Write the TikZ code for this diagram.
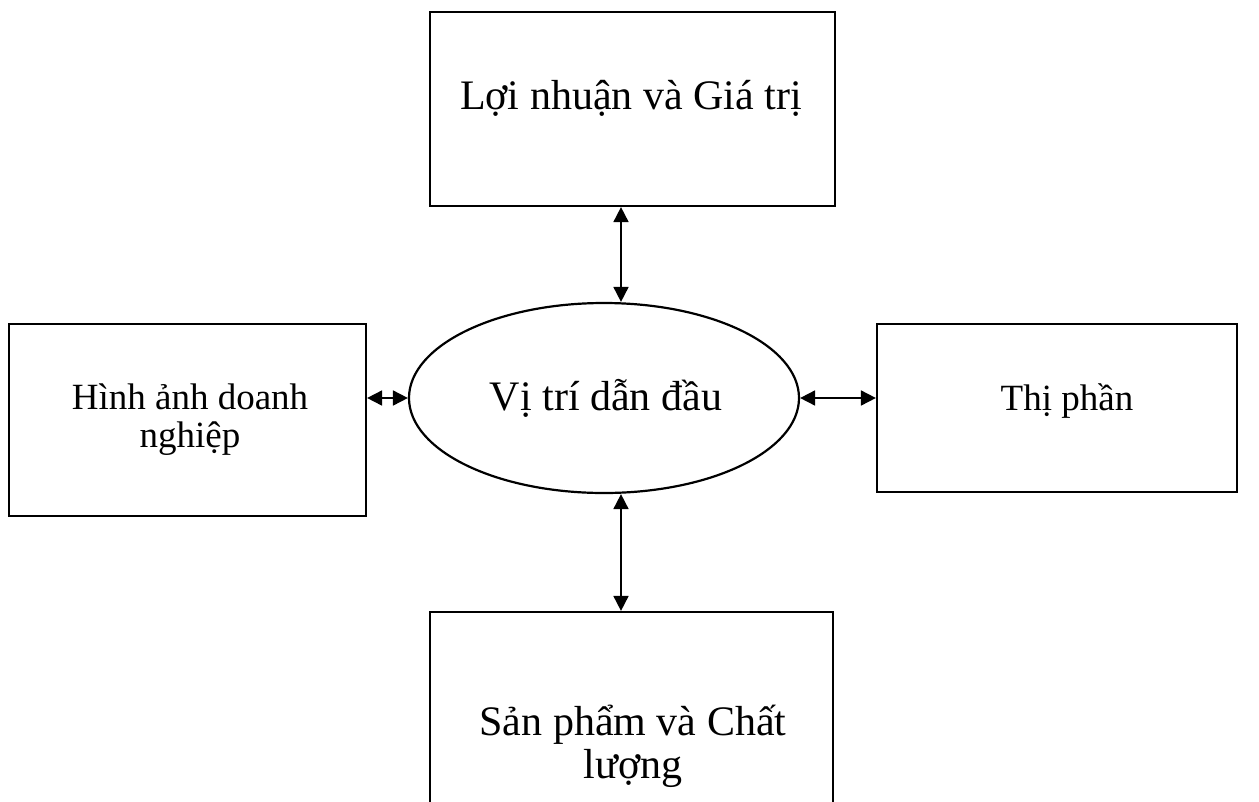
\documentclass[tikz,border=0pt]{standalone}
\usepackage{fontspec}
\setmainfont{Liberation Serif}
\usetikzlibrary{shapes.geometric,arrows.meta}
\begin{document}
\begin{tikzpicture}[x=1pt,y=-1pt,
  box/.style={draw,line width=2.2pt,rectangle,inner sep=0pt},
  label/.style={inner sep=0pt,anchor=base,align=center},
  link/.style={line width=1.8pt,{Triangle[length=15pt,width=15pt]}-{Triangle[length=15pt,width=15pt]}},
  big/.style={font=\fontsize{42}{43}\selectfont},
  mid/.style={font=\fontsize{37}{38}\selectfont}]
\useasboundingbox (0,0) rectangle (1259,801);
% central goal
\node[draw,line width=2.2pt,ellipse,minimum width=390pt,minimum height=190pt,inner sep=0pt]
  (goal) at (604,398) {};
\node[label,big] (goaltext) at (606,410) {Vị trí dẫn đầu};
% surrounding factors (two-line labels are placed by their last baseline)
\node[box,minimum width=405pt,minimum height=194pt] (profit) at (632.5,109) {};
\node[label,big] (profittext) at (631,109) {Lợi nhuận và Giá trị};
\node[box,minimum width=357pt,minimum height=192pt] (image) at (187.5,420) {};
\node[label,mid] (imagetext) at (190,447) {Hình ảnh doanh\\nghiệp};
\node[box,minimum width=360pt,minimum height=168pt] (share) at (1057,408) {};
\node[label,mid] (sharetext) at (1067,410) {Thị phần};
\node[box,minimum width=403pt,minimum height=280pt] (product) at (631.5,752) {};
\node[label,big] (producttext) at (633,778) {Sản phẩm và Chất\\lượng};
% two-way links
\draw[link] (profit.south -| 621,0) -- (goal.north -| 621,0);
\draw[link] (goal.south -| 621,0) -- (product.north -| 621,0);
\draw[link] (image.east |- goal.west) -- (goal.west);
\draw[link] (goal.east) -- (share.west |- goal.east);
\end{tikzpicture}
\end{document}
